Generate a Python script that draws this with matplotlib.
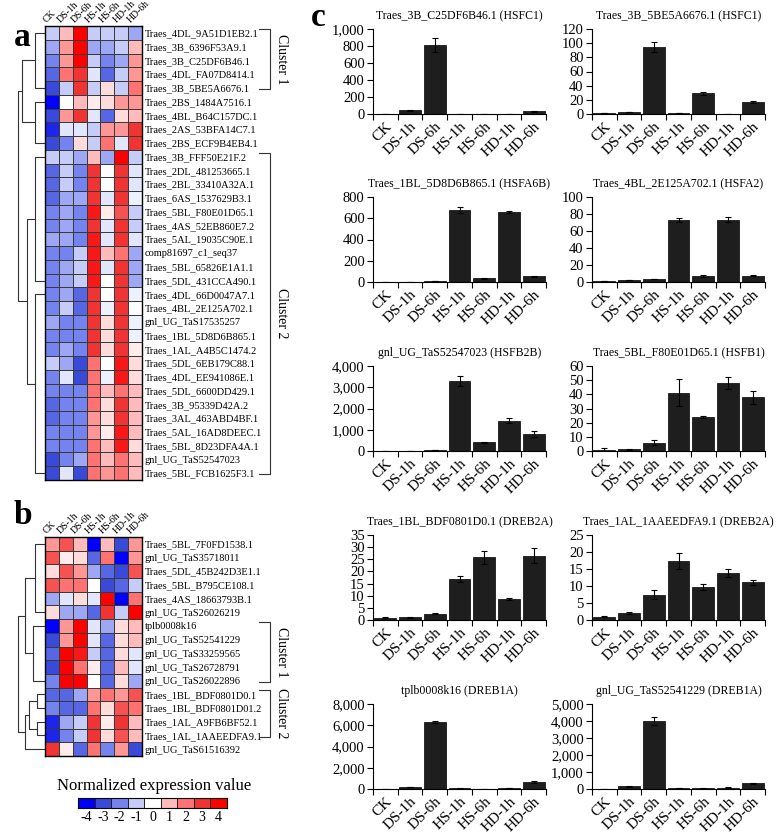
import numpy as np
import matplotlib.pyplot as plt
from matplotlib.colors import LinearSegmentedColormap
from matplotlib.ticker import FuncFormatter, FixedLocator
from matplotlib.transforms import blended_transform_factory

plt.rcParams['font.family'] = ['Liberation Serif', 'DejaVu Serif']

W, H = 778, 834
fig = plt.figure(figsize=(W / 100, H / 100), dpi=100)


def rect(x0, y0, x1, y1):
    # pixel box (top-left origin) -> figure fraction
    return [x0 / W, 1 - y1 / H, (x1 - x0) / W, (y1 - y0) / H]


conditions = ['CK', 'DS-1h', 'DS-6h', 'HS-1h', 'HS-6h', 'HD-1h', 'HD-6h']

# ---------------- heatmap a ----------------
genes_a = ['Traes_4DL_9A51D1EB2.1', 'Traes_3B_6396F53A9.1', 'Traes_3B_C25DF6B46.1',
           'Traes_4DL_FA07D8414.1', 'Traes_3B_5BE5A6676.1', 'Traes_2BS_1484A7516.1',
           'Traes_4BL_B64C157DC.1', 'Traes_2AS_53BFA14C7.1', 'Traes_2BS_ECF9B4EB4.1',
           'Traes_3B_FFF50E21F.2', 'Traes_2DL_481253665.1', 'Traes_2BL_33410A32A.1',
           'Traes_6AS_1537629B3.1', 'Traes_5BL_F80E01D65.1', 'Traes_4AS_52EB860E7.2',
           'Traes_5AL_19035C90E.1', 'comp81697_c1_seq37', 'Traes_5BL_65826E1A1.1',
           'Traes_5DL_431CCA490.1', 'Traes_4DL_66D0047A7.1', 'Traes_4BL_2E125A702.1',
           'gnl_UG_TaS17535257', 'Traes_1BL_5D8D6B865.1', 'Traes_1AL_A4B5C1474.2',
           'Traes_5DL_6EB179C88.1', 'Traes_4DL_EE941086E.1', 'Traes_5DL_6600DD429.1',
           'Traes_3B_95339D42A.2', 'Traes_3AL_463ABD4BF.1', 'Traes_5AL_16AD8DEEC.1',
           'Traes_5BL_8D23DFA4A.1', 'gnl_UG_TaS52547023', 'Traes_5BL_FCB1625F3.1']

expr_a = np.array([
    [-1, 1, 4, -1, -1, -1, -1.5],
    [-1.5, 1.5, 4, -1.5, -1.5, -1, 1],
    [-2, 1.5, 4, -1, -2, -1.5, 1.5],
    [-2.5, 2, 3, -0.5, -2.5, -1, 1.5],
    [-3, -1, 3, -1, 0.5, -1, 2],
    [-4, 0, 1, 0.3, 0.5, 1.5, 1.5],
    [-3, 1.5, 3, -0.5, -2.5, 0.5, 1],
    [-3.5, -0.5, -0.5, -1, 1.5, 1.5, 3],
    [-3, -2, 0.5, -1, 2, -0.5, 3],
    [-1, -1, -1.5, 1, -1.5, 4, -1],
    [-2.5, -1, -2, 3, 0, 3, -0.5],
    [-2.5, -1, -2, 3, 0, 3, -0.5],
    [-2.5, -1.5, -1.5, 3, -0.5, 3, -0.3],
    [-2, -1.5, -2, 3.5, 0.3, 2.5, -1],
    [-2, -1.5, -2, 3, -0.5, 3, -1],
    [-1.5, -1.5, -2, 3.5, -0.5, 3, -0.5],
    [-2, -2, -1, 3.5, 1, 2, -1.5],
    [-2, -1.5, -1, 3.5, -0.5, 3, -1.5],
    [-2, -1.5, -1, 3.5, 0, 3, -1.5],
    [-2, -1.5, -2.5, 3, 0, 3, -0.3],
    [-2, -1, -2.5, 3, -0.3, 3, 0],
    [-1.5, -2, -2, 3, 0.5, 3, -0.3],
    [-2, -2, -2, 3, 0.5, 3, -0.3],
    [-2, -1.5, -2, 3, 0.5, 3, 0.3],
    [-1, -1.5, -3, 2, 0, 3.5, 0.5],
    [-2, -0.5, -3, 2, -0.3, 3.5, 0.5],
    [-2, -2, -2, 2, 1, 2, 1],
    [-2.5, -2, -2, 2, 0.5, 3, 1],
    [-2.5, -2, -2, 1.5, 0.5, 3, 1],
    [-2, -2, -2, 1.5, 0.3, 3.5, 1],
    [-2, -2, -2, 2, 1, 3.5, 0.5],
    [-3, -2, -1.5, 2, 1, 2, 1],
    [-3, -0.5, -3, 2, 1.5, 2, 1],
])

# ---------------- heatmap b ----------------
genes_b = ['Traes_5BL_7F0FD1538.1', 'gnl_UG_TaS35718011', 'Traes_5DL_45B242D3E1.1',
           'Traes_5BL_B795CE108.1', 'Traes_4AS_18663793B.1', 'gnl_UG_TaS26026219',
           'tplb0008k16', 'gnl_UG_TaS52541229', 'gnl_UG_TaS33259565',
           'gnl_UG_TaS26728791', 'gnl_UG_TaS26022896', 'Traes_1BL_BDF0801D0.1',
           'Traes_1BL_BDF0801D01.2', 'Traes_1AL_A9FB6BF52.1', 'Traes_1AL_1AAEEDFA9.1',
           'gnl_UG_TaS61516392']

expr_b = np.array([
    [1.5, 2.5, 1, -4, 1, -3, 1.5],
    [2.5, 0.3, 0.5, -2.5, 2, -4, 1.5],
    [0.5, 2.5, 1.5, -1.5, -2.5, -3, 2.5],
    [2.5, 2, 2, 0, -3, -2.5, -1],
    [-1.5, -0.5, 0.5, -0.5, 4, -4, 2],
    [0.5, -1.5, -1.5, -2.5, 3, -1, 4],
    [-4, 1.5, 4, -0.5, -1.5, 0.5, 1],
    [-3, 1.5, 4, -0.5, -2.5, 0.5, 1],
    [-2.5, 4, 3.5, -1, -2.5, 0.5, -0.5],
    [-3, 4, 2, 0.3, -2.5, 1, -0.5],
    [-2, 4, 4, 0, -2.5, 0.5, -1.5],
    [-2.5, -2.5, -1.5, 1.5, 2, 1.5, 2.5],
    [-2, -2.5, -2.5, 2, 0.5, 2.5, 2],
    [-3.5, -1.5, -1, 3, 0.3, 3, 1],
    [-3.5, -2, -1, 3, 0.5, 2.5, 1],
    [3, 0.3, -2.5, 2, -2, 1.5, -3],
])

scale_levels = [-4, -3, -2, -1, 0, 1, 2, 3, 4]
level_colors = ['#0000ff', '#3a4ad8', '#7482ee', '#c4cbf8', '#ffffff',
                '#ffbcbc', '#ff7474', '#f03434', '#ff0000']
cmap = LinearSegmentedColormap.from_list('bwr9', list(zip(np.linspace(0, 1, 9), level_colors)))

# dendrogram layout (groups of rows, joins) -- depth given in pixels
tree_a = ('j', ('j', ('g', 0, 4, 35), ('g', 5, 8, 35), 22),
          ('j', ('g', 9, 18, 35), ('g', 19, 32, 35), 27), 18)
tree_b = ('j', ('j', ('g', 0, 5, 35), ('g', 6, 10, 33), 25),
          ('j', ('j', ('g', 11, 12, 37), ('g', 13, 14, 37), 29), ('g', 15, 15, 45), 25), 18)
clusters_a = [('Cluster 1', 0, 4), ('Cluster 2', 9, 32)]
clusters_b = [('Cluster 1', 6, 10), ('Cluster 2', 11, 14)]


def draw_tree(ax, node):
    if node[0] == 'g':
        _, r0, r1, d = node
        y0, y1 = r0 + 0.5, r1 + 0.5
        if r0 == r1:
            ax.plot([d, 45], [y0, y0], color='#333333', lw=0.8)
        else:
            ax.plot([45, d, d, 45], [y0, y0, y1, y1], color='#333333', lw=0.8)
        return (y0 + y1) / 2, d
    _, left, right, d = node
    ya, da = draw_tree(ax, left)
    yb, db = draw_tree(ax, right)
    ax.plot([da, d, d, db], [ya, ya, yb, yb], color='#333333', lw=0.8)
    return (ya + yb) / 2, d


def heatmap(top, bottom, data, labels, tree, clusters):
    n = len(labels)
    ax = fig.add_axes(rect(45, top, 142, bottom))
    ax.pcolormesh(np.arange(8), np.arange(n + 1), data, cmap=cmap, vmin=-4, vmax=4,
                  edgecolors='#3a3a3a', linewidth=0.5)
    ax.set_xlim(0, 7)
    ax.set_ylim(n, 0)
    ax.set_yticks(np.arange(n) + 0.5)
    ax.set_yticklabels(labels, fontsize=7.5)
    ax.yaxis.tick_right()
    ax.set_xticks(np.arange(7) + 0.25)
    ax.set_xticklabels(conditions, fontsize=7, rotation=45, ha='left',
                       rotation_mode='anchor')
    ax.xaxis.tick_top()
    ax.tick_params(axis='x', length=0, pad=1)
    ax.tick_params(axis='y', length=0, pad=2)
    for s in ax.spines.values():
        s.set_linewidth(1.0)

    dax = fig.add_axes(rect(15, top, 45, bottom))
    dax.set_xlim(15, 45)
    dax.set_ylim(n, 0)
    dax.axis('off')
    draw_tree(dax, tree)

    trans = blended_transform_factory(fig.transFigure, ax.transData)
    for name, r0, r1 in clusters:
        y0, y1 = r0 + 0.2, r1 + 0.6
        ax.plot([259 / W, 270 / W, 270 / W, 259 / W], [y0, y0, y1, y1], color='#333333',
                lw=0.8, transform=trans, clip_on=False)
        ax.text(281 / W, (y0 + y1) / 2, name, rotation=-90, ha='center', va='center',
                fontsize=10, transform=trans)
    return ax


heatmap(26, 480, expr_a, genes_a, tree_a, clusters_a)
heatmap(537, 756, expr_b, genes_b, tree_b, clusters_b)

# colour scale
cax = fig.add_axes(rect(78, 798, 227, 808))
cax.pcolormesh(np.arange(10), [0, 1], [scale_levels], cmap=cmap, vmin=-4, vmax=4,
               edgecolors='#222222', linewidth=0.6)
cax.set_xlim(0, 9)
cax.set_ylim(0, 1)
cax.set_yticks([])
cax.set_xticks(np.arange(9) + 0.5)
cax.set_xticklabels([str(v) for v in scale_levels], fontsize=10)
cax.tick_params(length=0, pad=2)
fig.text(154 / W, 1 - 786 / H, 'Normalized expression value', ha='center', va='center',
         fontsize=12)

# panel letters
for letter, px, py in [('a', 14, 38), ('b', 14, 515), ('c', 311, 17)]:
    fig.text(px / W, 1 - py / H, letter, fontsize=24, fontweight='bold', ha='left',
             va='center')

# ---------------- bar charts c ----------------
titles = ['Traes_3B_C25DF6B46.1 (HSFC1)', 'Traes_3B_5BE5A6676.1 (HSFC1)',
          'Traes_1BL_5D8D6B865.1 (HSFA6B)', 'Traes_4BL_2E125A702.1 (HSFA2)',
          'gnl_UG_TaS52547023 (HSFB2B)', 'Traes_5BL_F80E01D65.1 (HSFB1)',
          'Traes_1BL_BDF0801D0.1 (DREB2A)', 'Traes_1AL_1AAEEDFA9.1 (DREB2A)',
          'tplb0008k16 (DREB1A)', 'gnl_UG_TaS52541229 (DREB1A)']

c25d_mean = [1, 45, 815, 1, 3, 1, 30]
c25d_err = [0, 5, 80, 0, 0, 0, 5]
be5a_mean = [1, 3, 94, 1, 29, 0.5, 17]
be5a_err = [0.2, 0.3, 7, 0.2, 2, 0.1, 1.5]
d8d6_mean = [0.5, 1, 8, 677, 35, 657, 55]
d8d6_err = [0, 0, 1, 25, 3, 12, 5]
e125_mean = [1, 2.5, 3.5, 73, 7, 73.5, 7.5]
e125_err = [0.1, 0.3, 0.3, 2, 0.8, 3, 0.8]
tas547_mean = [1, 5, 30, 3300, 420, 1420, 800]
tas547_err = [0, 1, 5, 250, 20, 120, 140]
f80e_mean = [1, 1.2, 6, 41, 24, 48, 38]
f80e_err = [0.8, 0.3, 1.8, 9.5, 1, 4.5, 4.5]
bdf08_mean = [1, 1.1, 2.6, 17, 25.8, 8.7, 26.5]
bdf08_err = [0.2, 0.2, 0.3, 1.2, 2.6, 0.4, 3]
aaee_mean = [1, 2, 7.5, 17.3, 9.7, 13.8, 11.1]
aaee_err = [0.1, 0.3, 1.2, 2.3, 0.8, 1.2, 0.8]
tplb_mean = [5, 200, 6300, 50, 30, 100, 650]
tplb_err = [1, 20, 80, 5, 5, 10, 60]
tas541_mean = [5, 150, 4000, 60, 30, 80, 350]
tas541_err = [1, 15, 250, 5, 5, 10, 30]

means = [c25d_mean, be5a_mean, d8d6_mean, e125_mean, tas547_mean,
         f80e_mean, bdf08_mean, aaee_mean, tplb_mean, tas541_mean]
errs = [c25d_err, be5a_err, d8d6_err, e125_err, tas547_err,
        f80e_err, bdf08_err, aaee_err, tplb_err, tas541_err]
y_max = [1000, 120, 800, 100, 4000, 60, 35, 25, 8000, 5000]
y_step = [200, 20, 200, 20, 1000, 10, 5, 5, 2000, 1000]

row_tops = [29, 197, 366, 535, 704]
col_x = [(373, 546), (592, 765)]
x = np.arange(len(conditions))

for i in range(10):
    r, c = divmod(i, 2)
    x0, x1 = col_x[c]
    ax = fig.add_axes(rect(x0, row_tops[r], x1, row_tops[r] + 85))
    ax.bar(x, means[i], width=0.88, color='#1e1e1e', edgecolor='black', linewidth=0.5)
    ax.errorbar(x, means[i], yerr=errs[i], fmt='none', ecolor='black', elinewidth=0.8,
                capsize=2, capthick=0.8)
    ax.set_xlim(-0.5, 6.5)
    ax.set_ylim(0, y_max[i])
    ax.set_yticks(np.arange(0, y_max[i] + y_step[i] / 2, y_step[i]))
    ax.yaxis.set_major_formatter(FuncFormatter(lambda v, p: f'{int(round(v)):,}'))
    ax.xaxis.set_major_locator(FixedLocator(np.arange(-0.5, 7, 1)))
    ax.xaxis.set_minor_locator(FixedLocator(x))
    ax.set_xticklabels([], minor=False)
    ax.set_xticklabels(conditions, minor=True, rotation=45, ha='right',
                       rotation_mode='anchor', fontsize=11)
    ax.tick_params(axis='x', which='major', length=4, direction='out', width=0.8)
    ax.tick_params(axis='x', which='minor', length=0, pad=4)
    ax.tick_params(axis='y', length=4, width=0.8, labelsize=10.5, pad=2)
    ax.spines['top'].set_visible(False)
    ax.spines['right'].set_visible(False)
    ax.spines['left'].set_linewidth(0.8)
    ax.spines['bottom'].set_linewidth(0.8)
    ax.set_title(titles[i], fontsize=8.5, pad=7)

fig.savefig('out.png', dpi=100)
